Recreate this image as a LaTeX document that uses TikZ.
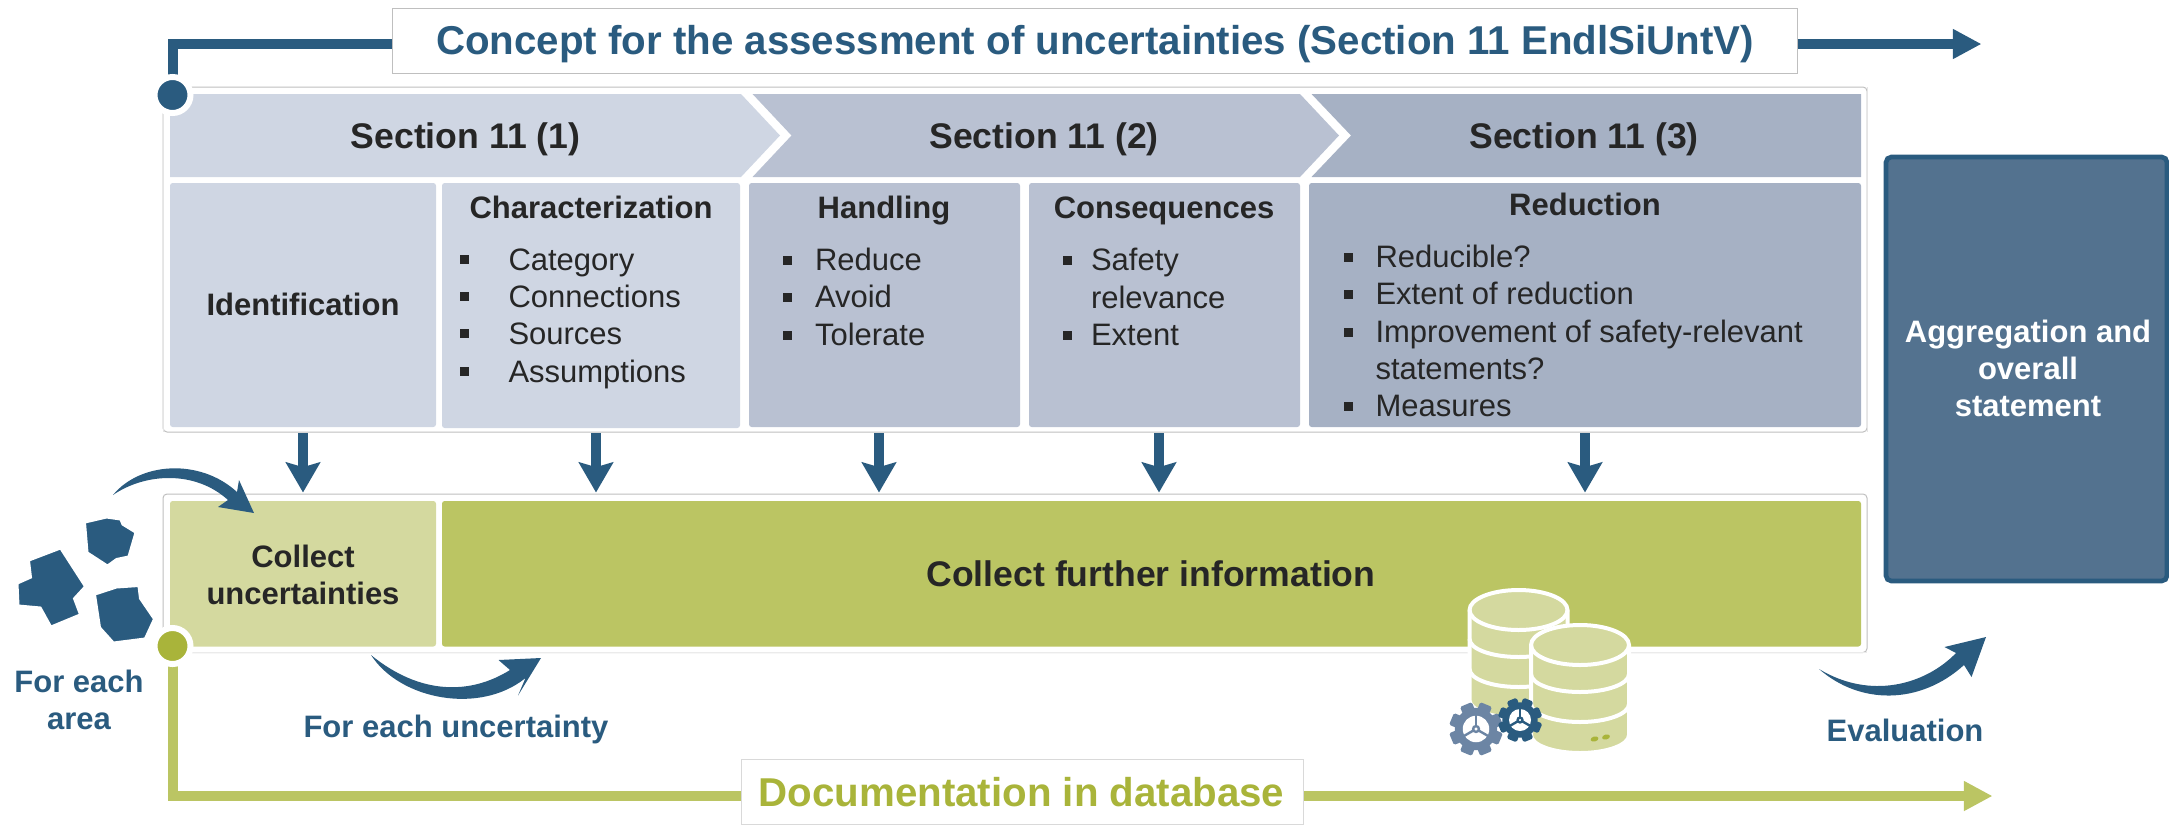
\documentclass[tikz,border=0pt]{standalone}
\usepackage{fontspec}
\setmainfont{Liberation Sans}
\usepackage{tikz}
\usetikzlibrary{calc}
\usetikzlibrary{arrows.meta}
\definecolor{sectone}{HTML}{CFD6E3}
\definecolor{secttwo}{HTML}{B9C1D2}
\definecolor{sectthree}{HTML}{A6B1C4}
\definecolor{darkblue}{HTML}{2A5B7F}
\definecolor{boxblue}{HTML}{53728F}
\definecolor{gearblue}{HTML}{6C85A4}
\definecolor{olive}{HTML}{BBC563}
\definecolor{lightolive}{HTML}{D4D99F}
\definecolor{doctext}{HTML}{A9B43A}
\definecolor{inktext}{HTML}{262626}
\tikzset{every picture/.style={line width=0.75pt}}
\tikzset{
  headtext/.style={font=\fontsize{23.25}{27.75}\selectfont\bfseries,text=inktext,align=center,inner sep=0.75pt,anchor=base},
  itemtext/.style={font=\fontsize{23.25}{27.75}\selectfont,text=inktext,anchor=base west,inner sep=0.75pt},
  sectiontext/.style={font=\fontsize{26.7}{32}\selectfont\bfseries,text=inktext,inner sep=0.75pt,anchor=base},
  bluetext/.style={font=\fontsize{23.25}{27.75}\selectfont\bfseries,text=darkblue,align=center,inner sep=0.75pt,anchor=base},
  titlebox/.style={draw=black!25,fill=white,line width=0.75pt,inner sep=0pt,minimum height=48.75pt},
  titletext/.style={font=\fontsize{30.2}{36}\selectfont\bfseries,inner sep=0.75pt,anchor=base},
  cellbox/.style={rounded corners=2pt},
  flowline/.style={line width=7.5pt},
  flowtip/.style={flowline,-{Triangle[length=21.4pt,width=21pt]}},
  downarrow/.style={line width=7.5pt,darkblue,-{Stealth[length=22.5pt,width=25.5pt,inset=3.5pt]}},
  startdot/.style={circle,draw=white,line width=4.5pt,minimum size=27pt,inner sep=0pt},
}
\newcommand{\bulletmark}[2]{\fill[inktext] (#1-4.5,#2-4.5) rectangle (#1+4.5,#2+4.5);}
\newcommand{\gearshape}[4]{%
  \begin{scope}[shift={(#1,#2)}]
    \foreach \a in {0,45,...,315} {
      \fill[#4,rotate=\a+22.5,rounded corners=1.2pt] (-0.24*#3,0.6*#3) rectangle (0.24*#3,#3);
    }
    \fill[#4] (0,0) circle ({0.8*#3});
    \fill[white] (0,0) circle ({0.5*#3});
    \foreach \a in {-90,30,150} {
      \draw[#4,line width=1.8pt,rotate=\a] (0,0) -- ({0.52*#3},0);
    }
    \filldraw[fill=white,draw=#4,line width=1.8pt] (0,0) circle ({0.11*#3});
  \end{scope}}
\newcommand{\dbstack}[2]{%
  \begin{scope}[shift={(#1,#2)}]
    \filldraw[fill=lightolive,draw=white,line width=3pt] (-49,0) -- (-49,90) arc[start angle=180,end angle=0,x radius=49,y radius=18] -- (49,0) arc[start angle=0,end angle=-180,x radius=49,y radius=20] -- cycle;
    \draw[white,line width=3pt] (-49,0) arc[start angle=180,end angle=0,x radius=49,y radius=20];
    \draw[white,line width=3pt] (-49,29) arc[start angle=180,end angle=0,x radius=49,y radius=18];
    \draw[white,line width=3pt] (-49,59) arc[start angle=180,end angle=0,x radius=49,y radius=18];
  \end{scope}}
\begin{document}
\begin{tikzpicture}[x=0.75pt,y=0.75pt,yscale=-1,xscale=1]
\useasboundingbox (0,0) rectangle (2169,825);

%Concept line
\coordinate (bluestart) at (172.5,95);
\coordinate (bluetip) at (1981.5,44);
\node[titlebox,minimum width=1054pt] (concept) at (1094.75,40.5) {};
\node[titletext,text=darkblue] (concepttext) at (1095,54.5) {Concept for the assessment of uncertainties (Section 11 EndlSiUntV)};
\draw[flowline,darkblue] (bluestart) |- ($(concept.west)+(0,3.5)$);
\draw[flowtip,darkblue] ($(concept.east)+(0,3.5)$) -- (bluetip);

%Documentation line
\coordinate (greenstart) at (172.5,646);
\coordinate (greentip) at (1992.5,796);
\node[titlebox,draw=black!15,minimum width=422pt] (docu) at (1022.5,792) {};
\node[titletext,text=doctext] (docutext) at (1021.5,806.5) {Documentation in database};
\draw[flowline,olive] (greenstart) |- ($(docu.west)+(0,4)$);
\draw[flowtip,olive] ($(docu.east)+(0,4)$) -- (greentip);

%Frames
\draw[black!25,rounded corners=3pt] (163,87) rectangle (1867,432);
\draw[black!10] (163,87) -- (163,432) (1867,87) -- (1867,432);
\draw[black!25,rounded corners=3pt] (163,494) rectangle (1867,652.5);
\draw[black!8] (163,652.5) -- (1867,652.5);

%Section chevrons
\fill[sectthree] (1311.5,94) -- (1861,94) -- (1861,177) -- (1311.5,177) -- (1351,135.5) -- cycle;
\fill[secttwo] (752.5,94) -- (1300,94) -- (1339,135.5) -- (1300,177) -- (752.5,177) -- (791.5,135.5) -- cycle;
\fill[sectone] (170,94) -- (741,94) -- (780,135.5) -- (741,177) -- (170,177) -- cycle;
\node[sectiontext] (secone) at (465.5,148) {Section 11 (1)};
\node[sectiontext] (sectwo) at (1044,148) {Section 11 (2)};
\node[sectiontext] (secthree) at (1584,148) {Section 11 (3)};

%Cells
\fill[cellbox,sectone] (170,183) rectangle (436,427);
\fill[cellbox,sectone] (442,183) rectangle (740,428);
\fill[cellbox,secttwo] (749,183) rectangle (1020,427);
\fill[cellbox,secttwo] (1029,183) rectangle (1300,427);
\fill[cellbox,sectthree] (1309,183) rectangle (1861,427);
\fill[cellbox,lightolive] (170,501) rectangle (436,646.5);
\fill[cellbox,olive] (442,501) rectangle (1861,646.5);
\fill[rounded corners=4pt,boxblue,draw=darkblue,line width=3.5pt] (1886,157) rectangle (2167,581);

%Column texts
\node[headtext] (ident) at (303,315) {Identification};
\node[headtext] (charact) at (591,218) {Characterization};
\node[headtext] (handl) at (884,218) {Handling};
\node[headtext] (conseq) at (1164,218) {Consequences};
\node[headtext] (reduct) at (1585,215) {Reduction};
\node[headtext] (collect) at (303,604) {Collect\\uncertainties};
\node[sectiontext] (further) at (1151,586) {Collect further information};
\node[headtext,text=white] (aggreg) at (2028,416) {Aggregation and\\overall\\statement};

%Bullet lists
\foreach \ytext/\lab in {260/Category,297/Connections,334/Sources,372/Assumptions} {
  \bulletmark{464.5}{\ytext-1}
  \node[itemtext] (char\ytext) at (507,\ytext+10) {\lab};
}
\foreach \ytext/\lab in {260/Reduce,297/Avoid,335/Tolerate} {
  \bulletmark{787}{\ytext}
  \node[itemtext] (hand\ytext) at (813.5,\ytext+10) {\lab};
}
\bulletmark{1067}{260}
\bulletmark{1067}{335}
\foreach \ytext/\lab in {260/Safety,298/relevance,335/Extent} {
  \node[itemtext] (cons\ytext) at (1089.5,\ytext+10) {\lab};
}
\bulletmark{1348}{257}
\bulletmark{1348}{294}
\bulletmark{1348}{332}
\bulletmark{1348}{406}
\foreach \ytext/\lab in {257/Reducible?,294/Extent of reduction,332/Improvement of safety-relevant,369/statements?,406/Measures} {
  \node[itemtext] (redu\ytext) at (1374,\ytext+10) {\lab};
}

%Down arrows
\foreach \nam/\xpos in {a/303,b/596,c/879,d/1159,e/1585} {
  \coordinate (from\nam) at (\xpos,433);
  \coordinate (to\nam) at (\xpos,492.5);
  \draw[downarrow] (from\nam) -- (to\nam);
}

%Areas
\filldraw[darkblue,draw=white,line width=1.5pt] (85,522.5) -- (106.5,517.5) -- (120.5,519.5) -- (122.5,524.5) -- (135.5,532.5) -- (128.5,556.5) -- (116.5,559) -- (107.5,565.5) -- (87.5,552.5) -- cycle;
\filldraw[darkblue,draw=white,line width=1.5pt] (29,560.5) -- (60.5,548.5) -- (85,586.5) -- (74,598.5) -- (80,614.5) -- (51,626.5) -- (40.5,607.5) -- (18.5,605.5) -- (17.5,583.5) -- (31,577.5) -- cycle;
\filldraw[darkblue,draw=white,line width=1.5pt] (95,594.5) -- (116.5,587.5) -- (138.5,586) -- (140,598.5) -- (154,619) -- (145,638.5) -- (113.5,642.5) -- (100,627.5) -- cycle;

%Curved arrows
\fill[darkblue] (113,495) .. controls (140,462) and (200,458) .. (237,492) -- (239,480) -- (254,513) -- (218,507) -- (228,500) .. controls (195,470) and (145,473) .. (113,495) -- cycle;
\fill[darkblue] (371,655) .. controls (400,700) and (480,715) .. (525.5,678) -- (518,695.5) -- (541,658) -- (498.5,660) -- (510,670) .. controls (470,695) and (420,695) .. (371,655) -- cycle;
\fill[darkblue] (1819,669) .. controls (1860,705) and (1920,705) .. (1964,665) -- (1971.5,677) -- (1986,637) -- (1944.5,647) -- (1956,653) .. controls (1925,685) and (1870,700) .. (1819,669) -- cycle;

%Start dots
\node[startdot,fill=darkblue] (bluedot) at (bluestart) {};
\node[startdot,fill=doctext] (greendot) at (greenstart) {};

%Database
\dbstack{1518.5}{610}
\dbstack{1580}{645}
\fill[doctext,rotate around={-15:(1594.5,739)}] (1594.5,739) ellipse (4 and 2.5);
\fill[doctext,rotate around={-15:(1606,737)}] (1606,737) ellipse (4 and 2.5);
\gearshape{1476}{729}{26.5}{gearblue}
\gearshape{1520}{720}{22}{darkblue}

%Labels
\node[bluetext] (forarea) at (79,729) {For each\\area};
\node[bluetext] (foruncert) at (456,737) {For each uncertainty};
\node[bluetext] (evalu) at (1905,741.5) {Evaluation};
\end{tikzpicture}
\end{document}
